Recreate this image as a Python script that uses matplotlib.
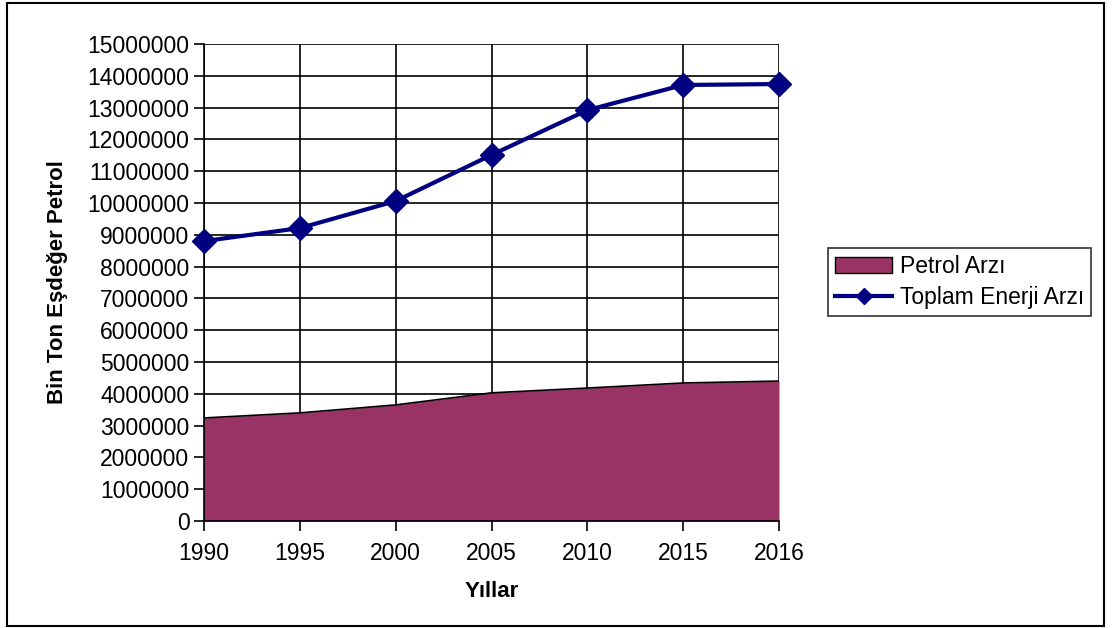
import numpy as np
import matplotlib.pyplot as plt
from matplotlib.patches import Rectangle

plt.rcParams['font.family'] = ['Liberation Sans', 'DejaVu Sans']

# Yıllık arz verileri (bin ton eşdeğer petrol)
yillar = ["1990", "1995", "2000", "2005", "2010", "2015", "2016"]
petrol_arzi = [3240000, 3400000, 3650000, 4030000, 4180000, 4340000, 4400000]
toplam_enerji_arzi = [8800000, 9210000, 10060000, 11510000, 12920000, 13710000, 13740000]
y_ticks = list(range(0, 15000001, 1000000))

fig = plt.figure(figsize=(11.13, 6.28), dpi=100)
ax = fig.add_axes([0.1833, 0.1704, 0.5166, 0.7596])

x = np.arange(len(yillar))

ax.fill_between(x, 0, petrol_arzi, color="#993366", linewidth=0, label="Petrol Arzı", zorder=2)
ax.plot(x, petrol_arzi, color="black", linewidth=1.2, zorder=3)
ax.plot(x, toplam_enerji_arzi, color="#000080", linewidth=3, marker="D", markersize=12,
        label="Toplam Enerji Arzı", zorder=4, clip_on=False)

ax.set_xlim(0, len(yillar) - 1)
ax.set_ylim(0, 15000000)
ax.set_xticks(x)
ax.set_xticklabels(yillar)
ax.set_yticks(y_ticks)
ax.set_yticklabels([str(v) for v in y_ticks])
ax.grid(True, color="black", linewidth=1.2, zorder=1)
ax.set_axisbelow(True)

for side in ["top", "right"]:
    ax.spines[side].set_visible(False)
for side in ["left", "bottom"]:
    ax.spines[side].set_linewidth(1.2)
ax.tick_params(axis="both", labelsize=16.5, length=7, width=1.2, direction="out")
ax.tick_params(axis="x", pad=8)

ax.set_xlabel("Yıllar", fontsize=16, fontweight="bold", labelpad=12)
ax.set_ylabel("Bin Ton Eşdeğer Petrol", fontsize=16, fontweight="bold", labelpad=14)

# Lejant: dolu alan için kenarlıklı kutu
handles, labels = ax.get_legend_handles_labels()
area_handle = Rectangle((0, 0), 1, 1, facecolor="#993366", edgecolor="black", linewidth=1)
leg = fig.legend([area_handle, handles[1]], ["Petrol Arzı", "Toplam Enerji Arzı"],
                 loc="center left", bbox_to_anchor=(0.744, 0.551), fontsize=16.5,
                 frameon=True, fancybox=False, edgecolor="black", handlelength=2.5,
                 borderpad=0.3, labelspacing=0.35, handletextpad=0.35, borderaxespad=0)
leg.get_frame().set_linewidth(1.2)
for h in leg.legend_handles[1:]:
    h.set_markersize(8)

# Dış çerçeve
fig.patches.append(Rectangle((0.006, 0.003), 0.986, 0.993, transform=fig.transFigure,
                             fill=False, edgecolor="black", linewidth=1.5))

fig.savefig("out.png", dpi=100)
